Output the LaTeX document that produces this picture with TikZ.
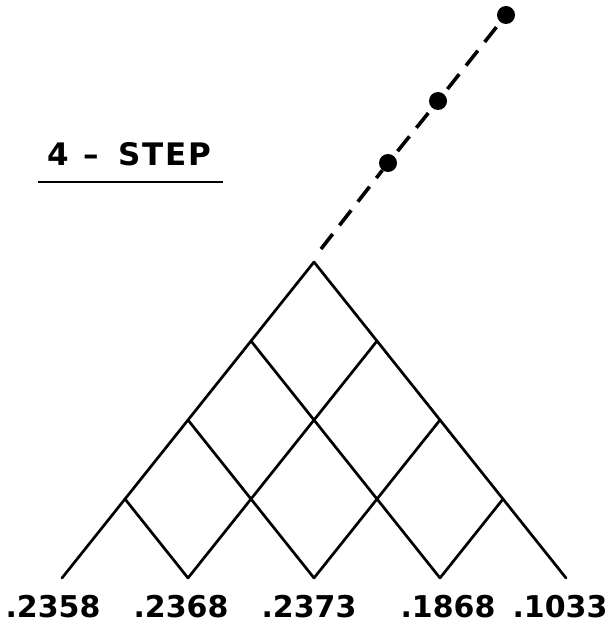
\documentclass[tikz,border=0pt]{standalone}
\usepackage{fontspec}
\setmainfont{DejaVu Sans}
\begin{document}
\begin{tikzpicture}[x=1pt,y=-1pt,
  lattice/.style={line width=2.7pt,line cap=round,line join=round},
  pathline/.style={line width=3.6pt,dash pattern=on 19pt off 11pt},
  dotnode/.style={circle,fill=black,inner sep=0pt,minimum size=18pt},
  valuelabel/.style={anchor=base,inner sep=0pt,font=\fontsize{30}{30}\selectfont\bfseries},
  titlelabel/.style={anchor=base west,inner sep=0pt,font=\fontsize{31}{31}\selectfont\bfseries}]
\useasboundingbox (0,0) rectangle (607,628);
% lattice points
\foreach \i in {0,...,4}{
  \foreach \j in {0,...,\i}{
    \coordinate (p\i\j) at ({314+(2*\j-\i)*63},{262+\i*79});
  }
}
\foreach \i in {0,...,3}{
  \pgfmathtruncatemacro{\n}{\i+1}
  \foreach \j in {0,...,\i}{
    \pgfmathtruncatemacro{\k}{\j+1}
    \draw[lattice] (p\i\j) -- (p\n\j);
    \draw[lattice] (p\i\j) -- (p\n\k);
  }
}
% dotted continuation
\node[dotnode] (d1) at (388,163) {};
\node[dotnode] (d2) at (438,101) {};
\node[dotnode] (d3) at (506,15) {};
\coordinate (g) at (321,249);
\draw[pathline] (g) -- (d1);
\draw[pathline,shorten <=6pt] (d1) -- (d2);
\draw[pathline,shorten <=6pt] (d2) -- (d3);
% title
\node[titlelabel] (title) at (47,166) {4\hspace{15pt}–\hspace{19pt}S\kern2pt T\kern2pt E\kern2pt P};
\coordinate (ul) at (38,182);
\coordinate (ur) at (223,182);
\draw[line width=2.6pt] (ul) -- (ur);
% values
\node[valuelabel] (v0) at (53,617) {.2358};
\node[valuelabel] (v1) at (181,617) {.2368};
\node[valuelabel] (v2) at (309,617) {.2373};
\node[valuelabel] (v3) at (448,617) {.1868};
\node[valuelabel] (v4) at (560,617) {.1033};
\end{tikzpicture}
\end{document}
